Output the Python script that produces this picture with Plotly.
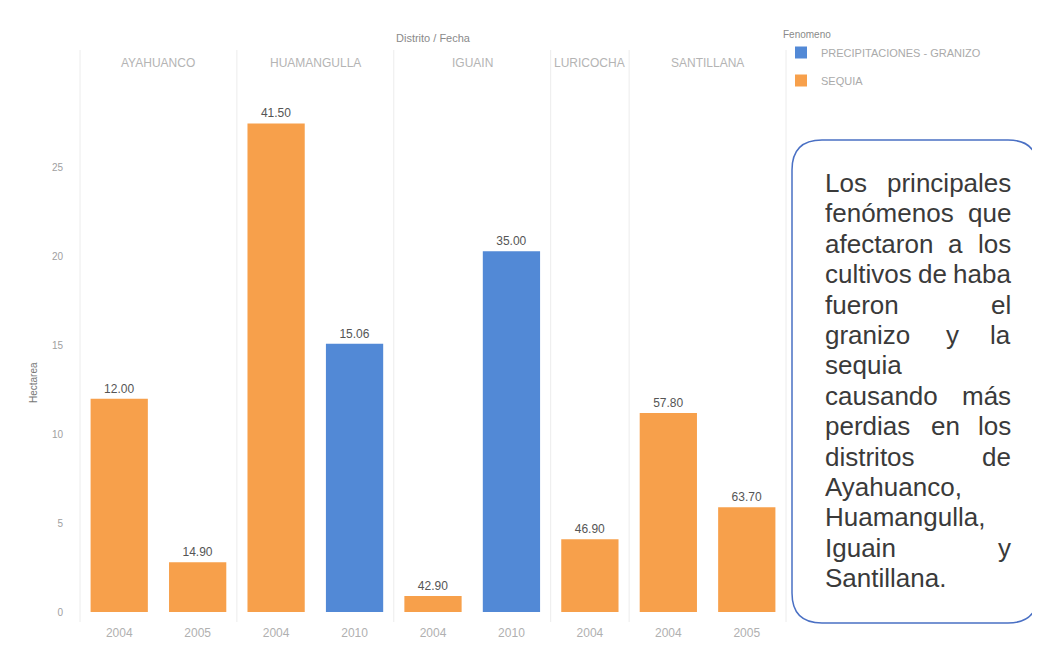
import plotly.graph_objects as go
from plotly.subplots import make_subplots

# ---------------- data ----------------
districts = ["AYAHUANCO", "HUAMANGULLA", "IGUAIN", "LURICOCHA", "SANTILLANA"]
bar_district = ["AYAHUANCO", "AYAHUANCO", "HUAMANGULLA", "HUAMANGULLA", "IGUAIN",
                "IGUAIN", "LURICOCHA", "SANTILLANA", "SANTILLANA"]
bar_year = ["2004", "2005", "2004", "2010", "2004", "2010", "2004", "2004", "2005"]
bar_fenomeno = ["SEQUIA", "SEQUIA", "SEQUIA", "PRECIPITACIONES - GRANIZO", "SEQUIA",
                "PRECIPITACIONES - GRANIZO", "SEQUIA", "SEQUIA", "SEQUIA"]
bar_value = [12.0, 2.8, 27.5, 15.1, 0.9, 20.3, 4.1, 11.2, 5.9]
bar_label = ["12.00", "14.90", "41.50", "15.06", "42.90", "35.00", "46.90", "57.80", "63.70"]
fenomenos = ["PRECIPITACIONES - GRANIZO", "SEQUIA"]
y_ticks = [0, 5, 10, 15, 20, 25]

colors = {"PRECIPITACIONES - GRANIZO": "#5289D6", "SEQUIA": "#F7A04B"}

note_lines = [
    ["Los", "principales"],
    ["fenómenos", "que"],
    ["afectaron", "a", "los"],
    ["cultivos", "de", "haba"],
    ["fueron", "el"],
    ["granizo", "y", "la"],
    ["sequia"],
    ["causando", "más"],
    ["perdias", "en", "los"],
    ["distritos", "de"],
    ["Ayahuanco,"],
    ["Huamangulla,"],
    ["Iguain", "y"],
    ["Santillana."],
]
middle_word_px = {2: 955, 3: 932, 5: 952, 8: 945}

# ---------------- layout geometry ----------------
# the page body has an 8px margin, so the figure is drawn 8px smaller
OFF = 8
FW, FH = 1040 - OFF, 646 - OFF
ML, MT = 80 - OFF, 79 - OFF
MR = FW - (786 - OFF)
MB = FH - (612 - OFF)
PW, PH = FW - ML - MR, FH - MT - MB


def px2x(px):
    return (px - OFF - ML) / PW


def py2y(py):
    return (FH - MB - (py - OFF)) / PH


counts = [bar_district.count(d) for d in districts]
fig = make_subplots(rows=1, cols=len(districts), shared_yaxes=True,
                    column_widths=counts, horizontal_spacing=0)

FONT = "Arial, Liberation Sans, sans-serif"
shown = set()
for ci, d in enumerate(districts, start=1):
    idx = [i for i, v in enumerate(bar_district) if v == d]
    for fen in fenomenos:
        sel = [i for i in idx if bar_fenomeno[i] == fen]
        if not sel:
            continue
        fig.add_trace(go.Bar(
            x=[bar_year[i] for i in sel],
            y=[bar_value[i] for i in sel],
            text=[bar_label[i] for i in sel],
            textposition="outside",
            textfont=dict(size=12, color="#555555", family=FONT),
            cliponaxis=False,
            marker=dict(color=colors[fen], line=dict(width=0)),
            name=fen,
            legendgroup=fen,
            legendrank=fenomenos.index(fen) + 1,
            showlegend=fen not in shown,
            hoverinfo="skip",
        ), row=1, col=ci)
        shown.add(fen)
    fig.update_xaxes(type="category", categoryorder="array",
                     categoryarray=[bar_year[i] for i in idx],
                     showgrid=False, showline=False, zeroline=False, automargin=False,
                     tickfont=dict(size=12, color="#b0b0b0", family=FONT),
                     ticks="", ticklabelstandoff=12, row=1, col=ci)

fig.update_yaxes(range=[0, 30], tickvals=y_ticks, showgrid=False, zeroline=False,
                 showline=False, ticks="", automargin=False)
fig.update_yaxes(tickfont=dict(size=10, color="#a0a0a0", family=FONT),
                 ticklabelstandoff=16, row=1, col=1)

shapes = []
bounds = []
for ci in range(1, len(districts) + 1):
    key = "xaxis" if ci == 1 else f"xaxis{ci}"
    dom = fig.layout[key].domain
    bounds.append(dom[0])
    if ci == len(districts):
        bounds.append(dom[1])
for b in bounds:
    shapes.append(dict(type="line", xref="paper", yref="paper", x0=b, x1=b,
                       y0=py2y(622), y1=py2y(50),
                       line=dict(color="#ececec", width=1)))

# rounded text box
x0, x1 = px2x(792), px2x(1038)
y0, y1 = py2y(623), py2y(140)
rx, ry = 30 / PW, 30 / PH
path = (f"M {x0+rx},{y1} L {x1-rx},{y1} Q {x1},{y1} {x1},{y1-ry} "
        f"L {x1},{y0+ry} Q {x1},{y0} {x1-rx},{y0} L {x0+rx},{y0} "
        f"Q {x0},{y0} {x0},{y0+ry} L {x0},{y1-ry} Q {x0},{y1} {x0+rx},{y1} Z")
shapes.append(dict(type="path", xref="paper", yref="paper", path=path,
                   line=dict(color="#4a70c4", width=1.5), fillcolor="rgba(255,255,255,0)"))

annotations = []
annotations.append(dict(text="Distrito / Fecha", x=px2x(433), y=py2y(38), xref="paper",
                        yref="paper", xanchor="center", yanchor="middle", showarrow=False,
                        font=dict(size=11, color="#8a8a8a", family=FONT)))
for ci, d in enumerate(districts):
    xc = (bounds[ci] + bounds[ci + 1]) / 2
    annotations.append(dict(text=d, x=xc, y=py2y(63), xref="paper", yref="paper",
                            xanchor="center", yanchor="middle", showarrow=False,
                            font=dict(size=12, color="#b4b4b4", family=FONT)))
annotations.append(dict(text="Hectarea", x=px2x(33), y=py2y(383), xref="paper", yref="paper",
                        xanchor="center", yanchor="middle", showarrow=False, textangle=-90,
                        font=dict(size=10, color="#777777", family=FONT)))

note_font = dict(size=26, color="#3a3a3a", family=FONT)
left_px, right_px = 823, 1013
top_py, step = 183, 30.4
for li, words in enumerate(note_lines):
    yy = py2y(top_py + li * step)
    common = dict(y=yy, xref="paper", yref="paper", yanchor="middle", showarrow=False,
                  font=note_font)
    annotations.append(dict(text=words[0], x=px2x(left_px), xanchor="left", **common))
    if len(words) > 1:
        annotations.append(dict(text=words[-1], x=px2x(right_px), xanchor="right", **common))
    if len(words) == 3:
        annotations.append(dict(text=words[1], x=px2x(middle_word_px[li]), xanchor="center",
                                **common))

fig.update_layout(
    width=FW, height=FH,
    margin=dict(l=ML, r=MR, t=MT, b=MB),
    paper_bgcolor="white", plot_bgcolor="white",
    barmode="overlay", bargap=0.27,
    shapes=shapes, annotations=annotations,
    legend=dict(
        title=dict(text="Fenomeno", font=dict(size=10, color="#8a8a8a", family=FONT)),
        x=px2x(781), y=py2y(25), xanchor="left", yanchor="top",
        traceorder="grouped", tracegroupgap=9,
        font=dict(size=11, color="#aaaaaa", family=FONT),
        bgcolor="rgba(255,255,255,0)",
    ),
    showlegend=True,
)

fig.write_html("out.html")
